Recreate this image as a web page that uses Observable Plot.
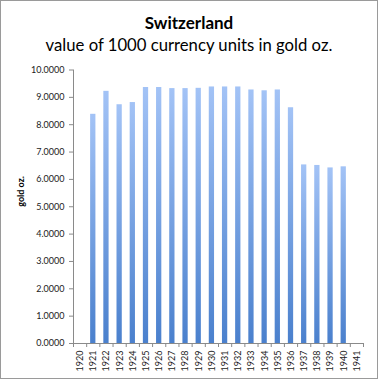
<!DOCTYPE html>
<html>
<head>
<meta charset="utf-8">
<script src="https://cdn.jsdelivr.net/npm/d3@7"></script>
<script src="https://cdn.jsdelivr.net/npm/@observablehq/plot@0.6"></script>
<style>
  html, body { margin: 0; padding: 0; background: #fff; }
  #wrap { position: relative; width: 378px; height: 379px; overflow: hidden; background: #fff; font-family: Lato, "Open Sans", sans-serif; }
  #frame { position: absolute; left: 0; top: 0; width: 376px; height: 377px; border: 1px solid #9a9a9a; pointer-events: none; }
  #title { position: absolute; left: 0; width: 378px; top: 13px; text-align: center; font-weight: bold; font-size: 17px; line-height: 20px; color: #000; }
  #subtitle { position: absolute; left: 0; width: 378px; top: 35px; text-align: center; font-size: 16.7px; line-height: 20px; color: #000; }
  #chart { position: absolute; left: 0; top: 60px; }
</style>
</head>
<body>
<div id="wrap">
  <div id="title">Switzerland</div>
  <div id="subtitle">value of 1000 currency units in gold oz.</div>
  <div id="chart"></div>
  <div id="frame"></div>
</div>
<script>
const years = [1920, 1921, 1922, 1923, 1924, 1925, 1926, 1927, 1928, 1929, 1930,
               1931, 1932, 1933, 1934, 1935, 1936, 1937, 1938, 1939, 1940, 1941];
const barYears = [1921, 1922, 1923, 1924, 1925, 1926, 1927, 1928, 1929, 1930,
                  1931, 1932, 1933, 1934, 1935, 1936, 1937, 1938, 1939, 1940];
const goldOz = [8.38, 9.22, 8.73, 8.81, 9.36, 9.36, 9.32, 9.32, 9.33, 9.38,
                9.38, 9.38, 9.27, 9.24, 9.27, 8.62, 6.53, 6.51, 6.42, 6.46];
const yTicks = [0, 1, 2, 3, 4, 5, 6, 7, 8, 9, 10];
const yLabel = "gold oz.";

const data = barYears.map((y, i) => ({year: y, value: goldOz[i]}));
const boundaries = years.map(y => y - 0.5).concat([years[years.length - 1] + 0.5]);
const half = 0.2;

const chart = Plot.plot({
  width: 378,
  height: 319,
  marginTop: 9.5,
  marginBottom: 36,
  marginLeft: 73,
  marginRight: 15,
  style: {fontFamily: "Lato, 'Open Sans', sans-serif", fontSize: "9px", color: "#222", background: "white"},
  x: {type: "linear", domain: [years[0] - 0.5, years[years.length - 1] + 0.5]},
  y: {domain: [0, 10]},
  marks: [
    Plot.rectY(data, {x1: d => d.year - half, x2: d => d.year + half, y: "value", fill: "url(#barGrad)"}),
    Plot.ruleY([0], {stroke: "#8a8a8a"}),
    Plot.ruleX([boundaries[0]], {y1: 0, y2: 10, stroke: "#8a8a8a"}),
    Plot.axisY({ticks: yTicks, tickFormat: d3.format(".4f"), tickSize: 4, tickPadding: 5, stroke: "#8a8a8a", label: null}),
    Plot.axisX({ticks: boundaries, tickFormat: () => "", tickSize: 4, stroke: "#8a8a8a", label: null}),
    Plot.axisX({ticks: years, tickFormat: d => String(d), tickSize: 0, tickPadding: 7, tickRotate: -90, label: null}),
    Plot.text([yLabel], {frameAnchor: "left", dx: -52, rotate: -90, fontWeight: "bold", fontSize: 9, fill: "#000"})
  ]
});

const svg = d3.select(chart);
const defs = svg.insert("defs", ":first-child");
const grad = defs.append("linearGradient").attr("id", "barGrad")
  .attr("x1", 0).attr("y1", 0).attr("x2", 0).attr("y2", 1);
grad.append("stop").attr("offset", "0%").attr("stop-color", "#a3c3f6");
grad.append("stop").attr("offset", "100%").attr("stop-color", "#4a80cd");

document.getElementById("chart").appendChild(chart);
</script>
</body>
</html>
